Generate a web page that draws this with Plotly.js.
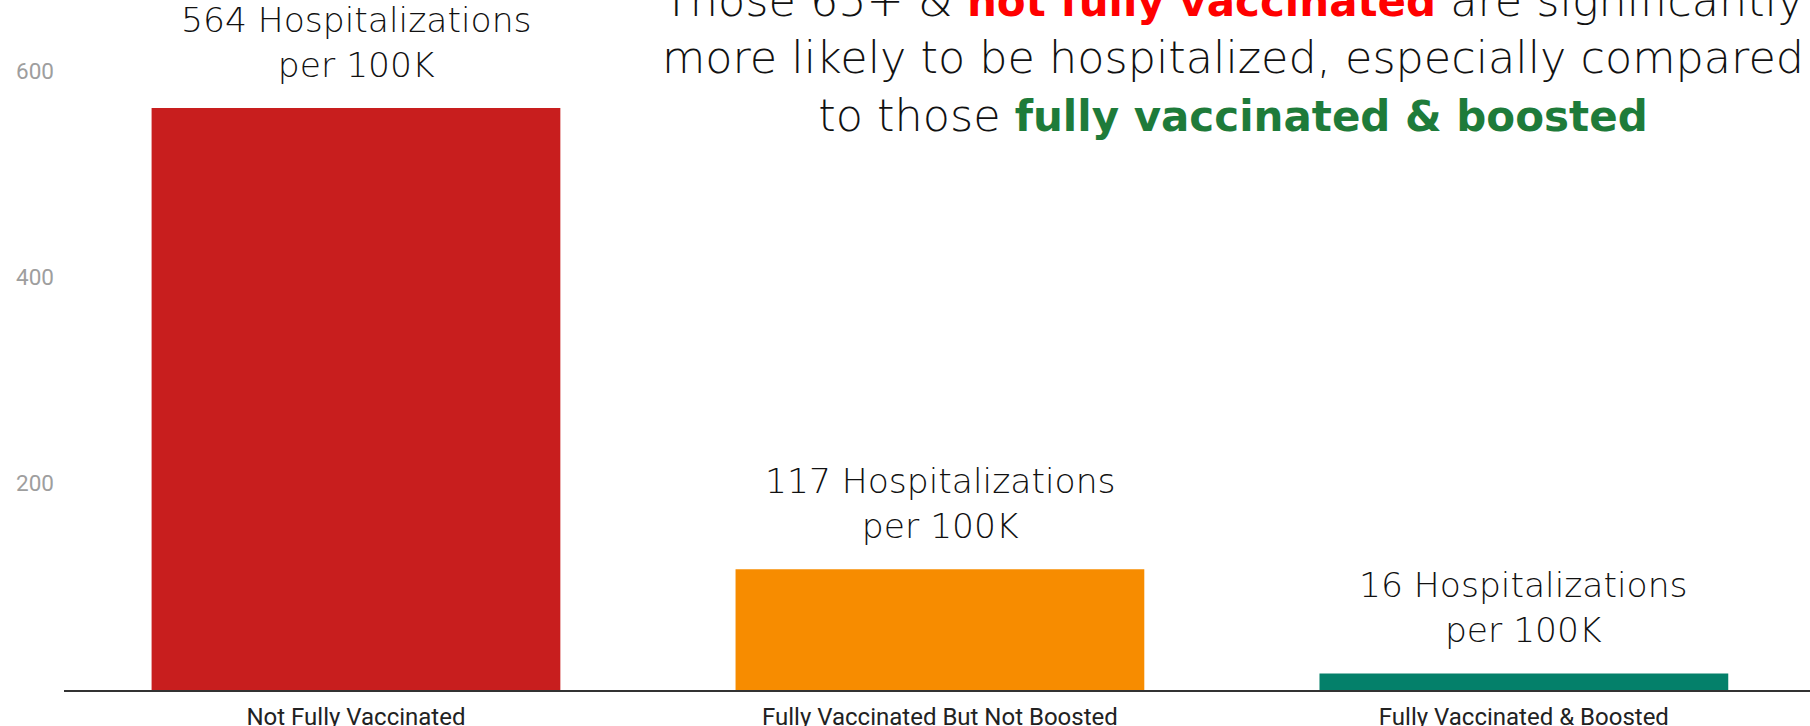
<!DOCTYPE html>
<html>
<head>
<meta charset="utf-8">
<script src="https://cdn.plot.ly/plotly-3.0.1.min.js"></script>
<style>html,body{margin:0;padding:0;background:#fff;}#chart{width:1810px;height:726px;}</style>
</head>
<body>
<div id="chart"></div>
<script>
const categories = ["Not Fully Vaccinated", "Fully Vaccinated But Not Boosted", "Fully Vaccinated & Boosted"];
const hospitalizations = [564, 117, 16];
const barColors = ["#C81E1E", "#F78C00", "#04806A"];
const yTicks = [200, 400, 600];
const labelSuffix = " Hospitalizations<br>per 100K";
const titleText = 'Those 65+ &amp; <b><span style="color:#FF0000;font-size:42px">not fully vaccinated</span></b> are significantly<br>' +
  'more likely to be hospitalized, especially compared<br>' +
  'to those <b><span style="color:#1E7B3A;font-size:42px">fully vaccinated &amp; boosted</span></b>';

const labelFont = {family: "DejaVu Sans", size: 34.5, color: "#111", weight: 200};

const trace = {
  type: "bar",
  x: categories,
  y: hospitalizations,
  marker: {color: barColors, line: {width: 0}},
  hoverinfo: "skip"
};

const annotations = categories.map((c, i) => ({
  x: c, y: hospitalizations[i], xref: "x", yref: "y",
  text: hospitalizations[i] + labelSuffix,
  showarrow: false, xanchor: "center", yanchor: "bottom", yshift: 21,
  font: labelFont
}));

const layout = {
  width: 1810, height: 726,
  margin: {l: 64, r: 0, t: 0, b: 36, pad: 0},
  paper_bgcolor: "#fff", plot_bgcolor: "#fff",
  showlegend: false,
  bargap: 0.3,
  title: {
    text: titleText,
    font: {family: "DejaVu Sans", size: 44.5, color: "#111", weight: 200},
    xref: "container", x: 1233 / 1810, xanchor: "center",
    yref: "container", y: 1 - 15.5 / 726, yanchor: "middle"
  },
  xaxis: {
    type: "category", range: [-0.5, 2.49],
    showline: true, linecolor: "#333", linewidth: 2,
    showgrid: false, zeroline: false, ticks: "",
    tickfont: {family: "Roboto", size: 24, color: "#222"},
    ticklabelstandoff: 4, fixedrange: true
  },
  yaxis: {
    range: [0, 668.6], tickvals: yTicks,
    showgrid: false, zeroline: false, showline: false, ticks: "",
    tickfont: {family: "Roboto", size: 22.5, color: "#9E9E9E"},
    ticklabelstandoff: 9, fixedrange: true
  },
  annotations: annotations
};

Plotly.newPlot("chart", [trace], layout, {displayModeBar: false, staticPlot: true});
</script>
</body>
</html>
